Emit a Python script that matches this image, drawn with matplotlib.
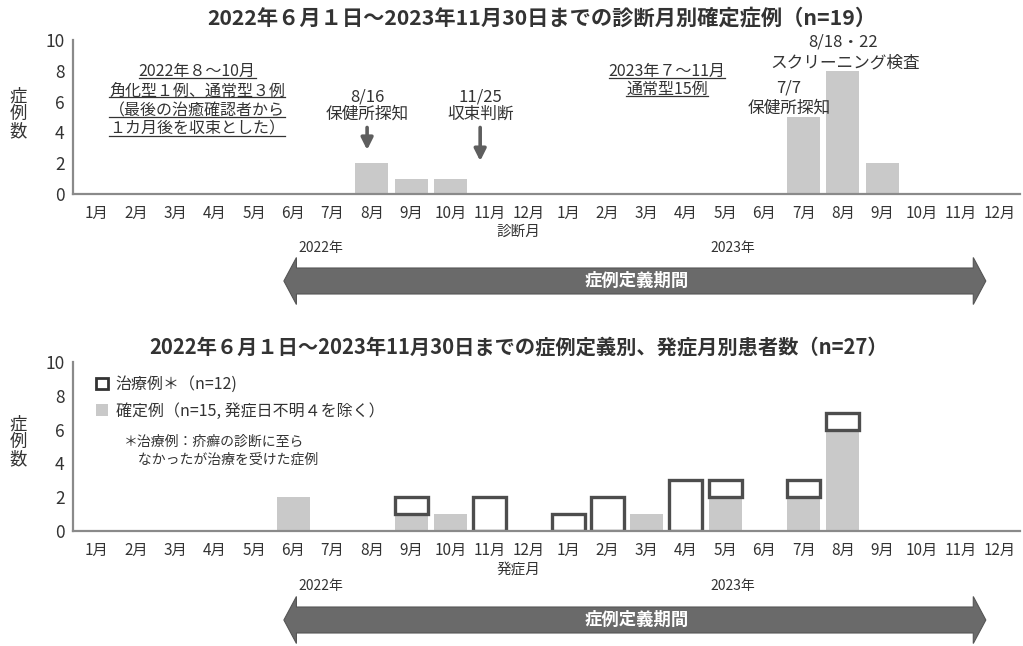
import matplotlib
matplotlib.use("Agg")
import matplotlib.pyplot as plt
from matplotlib.patches import Patch, Polygon
from matplotlib.lines import Line2D
from matplotlib.transforms import blended_transform_factory
import numpy as np

plt.rcParams['font.family'] = ['Noto Sans CJK JP', 'DejaVu Sans']

# ---------------- data ----------------
months = ['1月', '2月', '3月', '4月', '5月', '6月', '7月', '8月', '9月', '10月', '11月', '12月'] * 2
years = ['2022年', '2023年']
# top: confirmed cases by month of diagnosis (Jan 2022 .. Dec 2023)
diag_confirmed = [0, 0, 0, 0, 0, 0, 0, 2, 1, 1, 0, 0,
                  0, 0, 0, 0, 0, 0, 5, 8, 2, 0, 0, 0]
# bottom: by month of onset
onset_confirmed = [0, 0, 0, 0, 0, 2, 0, 0, 1, 1, 0, 0,
                   0, 0, 1, 0, 2, 0, 2, 6, 0, 0, 0, 0]
onset_treated = [0, 0, 0, 0, 0, 0, 0, 0, 1, 0, 2, 0,
                 1, 2, 0, 3, 1, 0, 1, 1, 0, 0, 0, 0]

title_top = '2022年６月１日～2023年11月30日までの診断月別確定症例（n=19）'
title_bot = '2022年６月１日～2023年11月30日までの症例定義別、発症月別患者数（n=27）'
period_label = '症例定義期間'

GRAY = '#c9c9c9'
EDGE = '#4d4d4d'
TXT = '#333333'
BAND = '#6a6a6a'

W, H = 1023, 646
fig = plt.figure(figsize=(W / 100, H / 100), dpi=100)

def fx(px):
    return px / W

def fy(py):
    return 1 - py / H

ax1 = fig.add_axes([fx(73), fy(194), fx(1020) - fx(73), fy(40) - fy(194)])
ax2 = fig.add_axes([fx(73), fy(531), fx(1020) - fx(73), fy(362) - fy(531)])

x = np.arange(len(months))
BW = 0.84

for ax in (ax1, ax2):
    ax.set_xlim(-0.611, 23.51)
    ax.set_ylim(0, 10)
    ax.set_yticks([0, 2, 4, 6, 8, 10])
    ax.set_xticks(x)
    ax.set_xticklabels(months)
    ax.tick_params(axis='both', length=0, colors=TXT)
    ax.tick_params(axis='x', pad=8, labelsize=11)
    ax.tick_params(axis='y', pad=6, labelsize=12.5)
    for s in ('top', 'right'):
        ax.spines[s].set_visible(False)
    for s in ('left', 'bottom'):
        ax.spines[s].set_color('#8a8a8a')
        ax.spines[s].set_linewidth(1.6)
    ax.set_ylabel('症\n例\n数', rotation=0, fontsize=12.5, color=TXT, linespacing=0.95)
    ax.patch.set_alpha(0)

ax1.yaxis.set_label_coords(-0.058, 0.52)
ax2.yaxis.set_label_coords(-0.058, 0.525)
ax1.yaxis.label.set_verticalalignment('center')
ax2.yaxis.label.set_verticalalignment('center')

# ---------------- top chart ----------------
ax1.bar(x, diag_confirmed, width=BW, color=GRAY, edgecolor='none')
fig.text(fx(542), fy(18), title_top, ha='center', va='center', fontsize=15.3, fontweight='bold', color=TXT)
ax1.set_xlabel('診断月', fontsize=10.5, color=TXT)
ax1.xaxis.set_label_coords((518 - 73) / 947, (194 - 232) / 153)
ax1.xaxis.label.set_verticalalignment('center')

underlined = []
for yy, s in zip([7.95, 6.7, 5.4, 4.2],
                 ['2022年８～10月', '角化型１例、通常型３例', '（最後の治癒確認者から', '１カ月後を収束とした）']):
    underlined.append(ax1.text(2.55, yy, s, ha='center', va='center', fontsize=11.5, color=TXT))
for yy, s in zip([7.95, 6.8], ['2023年７～11月', '通常型15例']):
    underlined.append(ax1.text(14.52, yy, s, ha='center', va='center', fontsize=11.5, color=TXT))

FS = 12
ax1.text(6.88, 6.3, '8/16', ha='center', va='center', fontsize=FS, color=TXT)
ax1.text(6.88, 5.2, '保健所探知', ha='center', va='center', fontsize=FS, color=TXT)
ax1.text(9.76, 6.3, '11/25', ha='center', va='center', fontsize=FS, color=TXT)
ax1.text(9.76, 5.2, '収束判断', ha='center', va='center', fontsize=FS, color=TXT)
ax1.text(17.62, 6.9, '7/7', ha='center', va='center', fontsize=FS, color=TXT)
ax1.text(17.62, 5.6, '保健所探知', ha='center', va='center', fontsize=FS, color=TXT)
ax1.text(19.0, 9.84, '8/18・22', ha='center', va='center', fontsize=FS, color=TXT)
ax1.text(19.05, 8.53, 'スクリーニング検査', ha='center', va='center', fontsize=FS, color=TXT)

for xa, ytip in [(6.88, 2.68), (9.76, 1.96)]:
    ax1.annotate('', xy=(xa, ytip), xytext=(xa, 4.5),
                 arrowprops=dict(arrowstyle='-|>,head_length=0.7,head_width=0.35', color='#5e5e5e', lw=2.6))

# ---------------- bottom chart ----------------
ax2.bar(x, onset_confirmed, width=BW, color=GRAY, edgecolor='none')
ct = np.array(onset_treated)
cc = np.array(onset_confirmed)
mask = ct > 0
ax2.bar(x[mask], ct[mask], bottom=cc[mask], width=BW, facecolor='none', edgecolor=EDGE, linewidth=2.4)
fig.text(fx(519), fy(347), title_bot, ha='center', va='center', fontsize=14.6, fontweight='bold', color=TXT)
ax2.set_xlabel('発症月', fontsize=10.5, color=TXT)
ax2.xaxis.set_label_coords((518 - 73) / 947, (531 - 571) / 170)
ax2.xaxis.label.set_verticalalignment('center')

handles = [Patch(facecolor='white', edgecolor='#333333', linewidth=2.0),
           Patch(facecolor=GRAY, edgecolor='none')]
leg = ax2.legend(handles, ['治療例＊（n=12)', '確定例（n=15, 発症日不明４を除く）'],
                 loc='upper left', bbox_to_anchor=(0.018, 0.955), frameon=False,
                 fontsize=11.5, handlelength=0.7, handleheight=0.7, handletextpad=0.5,
                 labelspacing=0.6, borderaxespad=0)
for t in leg.get_texts():
    t.set_color(TXT)
ax2.text(0.054, 0.475, '＊治療例：疥癬の診断に至ら\n　なかったが治療を受けた症例', transform=ax2.transAxes,
         ha='left', va='center', fontsize=10, color=TXT, linespacing=1.3)

# ---------------- period bands ----------------
def band(ax, cy_px):
    tr = blended_transform_factory(ax.transData, fig.transFigure)
    x0, x1 = 4.76, 22.64
    hl = 0.32
    bh = 13 / H
    hh = 23.5 / H
    cy = fy(cy_px)
    pts = [(x0, cy), (x0 + hl, cy + hh), (x0 + hl, cy + bh), (x1 - hl, cy + bh), (x1 - hl, cy + hh),
           (x1, cy), (x1 - hl, cy - hh), (x1 - hl, cy - bh), (x0 + hl, cy - bh), (x0 + hl, cy - hh)]
    poly = Polygon(pts, closed=True, transform=tr, facecolor=BAND, edgecolor='#555555', lw=0.8,
                   clip_on=False)
    fig.add_artist(poly)
    fig.text(fx(637), cy, period_label, ha='center', va='center', fontsize=12.5, fontweight='bold',
             color='white')

band(ax1, 281)
band(ax2, 620)

fig.text(fx(298), fy(248), years[0], ha='left', va='center', fontsize=10, color=TXT)
fig.text(fx(733), fy(248), years[1], ha='center', va='center', fontsize=10, color=TXT)
fig.text(fx(298), fy(586), years[0], ha='left', va='center', fontsize=10, color=TXT)
fig.text(fx(733), fy(586), years[1], ha='center', va='center', fontsize=10, color=TXT)

# ---------------- underlines ----------------
fig.canvas.draw()
r = fig.canvas.get_renderer()
inv = fig.transFigure.inverted()
for t in underlined:
    bb = t.get_window_extent(r)
    (a, b) = inv.transform((bb.x0, bb.y0 + 2))
    (c, d) = inv.transform((bb.x1, bb.y0 + 2))
    fig.add_artist(Line2D([a, c], [b, d], transform=fig.transFigure, color=TXT, lw=0.9))

fig.savefig('out.png', dpi=100)
